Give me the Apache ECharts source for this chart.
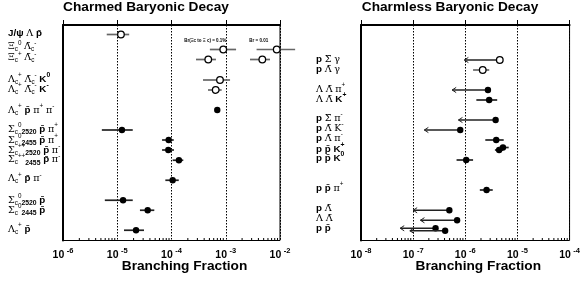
<!DOCTYPE html>
<html><head><meta charset="utf-8">
<script src="https://cdn.jsdelivr.net/npm/echarts@6/dist/echarts.min.js"></script>
<style>html,body{margin:0;padding:0;background:#fff}#c{width:583px;height:283px}</style>
</head><body><div id="c"></div>
<script>
// ---------- Left panel: Charmed Baryonic Decay ----------
const leftLabels = [
  '{b|J/ψ} {n|Λ} {b|p̄}',
  '{n|Ξ}{sub|c}{sup|0} {n|Λ̄}{sub|c}{sup|-}',
  '{n|Ξ}{sub|c}{sup|+} {n|Λ̄}{sub|c}{sup|-}',
  '{n|Λ}{sub|c}{sup|+} {n|Λ̄}{sub|c}{sup|-} {b|K}{supb|0}',
  '{n|Λ}{sub|c}{sup|+} {n|Λ̄}{sub|c}{sup|-} {b|K}{supb|-}',
  '{n|Λ}{sub|c}{sup|+} {b|p̄} {n|π}{sup|+} {n|π}{sup|-}',
  '{n|Σ}{sub|c}{sup|0}{subb|2520} {b|p̄} {n|π}{sup|+}',
  '{n|Σ}{sub|c}{sup|0}{subb|2455} {b|p̄} {n|π}{sup|+}',
  '{n|Σ}{sub|c}{sup|++}{subb|2520} {b|p̄} {n|π}{sup|-}',
  '{n|Σ}{sub|c}{sup|++}{subb|2455} {b|p̄} {n|π}{sup|-}',
  '{n|Λ}{sub|c}{sup|+} {b|p̄} {n|π}{sup|-}',
  '{n|Σ}{sub|c}{sup|0}{subb|2520} {b|p̄}',
  '{n|Σ}{sub|c}{sup|0}{subb|2445} {b|p̄}',
  '{n|Λ}{sub|c}{sup|+} {b|p̄}'
];
const leftLabelRows = [1.7, 4.3, 6.5, 10.8, 12.8, 17, 20.8, 23, 25, 26.9, 30.7, 35, 37, 40.8];

// measurements (kind: 0 filled bar, 1 open bar, 2 filled upper limit, 3 open upper limit)
const leftRows   = [1.9, 4.9, 4.9, 6.9, 6.9, 11, 13, 17, 21, 23, 25, 27.05, 31.05, 35.05, 37.05, 41.05];
const leftValues = [1.17e-5, 9.0e-4, 8.7e-3, 4.76e-4, 4.72e-3, 7.83e-4, 6.53e-4, 6.98e-4, 1.22e-5, 8.87e-5, 8.73e-5, 1.37e-4, 1.05e-4, 1.28e-5, 3.64e-5, 2.22e-5];
const leftLow    = [6.4e-6, 5.1e-4, 3.7e-3, 2.83e-4, 2.8e-3, 3.81e-4, 4.71e-4, 6.5e-4, 5.2e-6, 6.7e-5, 6.7e-5, 1.05e-4, 7.7e-5, 5.9e-6, 2.62e-5, 1.33e-5];
const leftHigh   = [1.66e-5, 1.55e-3, 1.9e-2, 6.6e-4, 6.55e-3, 1.2e-3, 8.4e-4, 7.5e-4, 1.93e-5, 1.1e-4, 1.11e-4, 1.65e-4, 1.36e-4, 1.93e-5, 4.82e-5, 3.11e-5];
const leftKind   = [1, 1, 1, 1, 1, 1, 1, 0, 0, 0, 0, 0, 0, 0, 0, 0];
const leftNotes  = ['', 'Br(Ξc to Ξ c) = 0.1%', 'Br = 0.01', '', '', '', '', '', '', '', '', '', '', '', '', ''];

// ---------- Right panel: Charmless Baryonic Decay ----------
const rightLabels = [
  '{b|p} {n|Σ̄} {n|γ}',
  '{b|p} {n|Λ̄} {n|γ}',
  '{n|Λ} {n|Λ̄} {n|π}{sup|+}',
  '{n|Λ} {n|Λ̄} {b|K}{supb|+}',
  '{b|p} {n|Σ̄} {n|π}{sup|-}',
  '{b|p} {n|Λ̄} {n|K}{sup|-}',
  '{b|p} {n|Λ̄} {n|π}{sup|-}',
  '{b|p p̄ K}{supb|+}',
  '{b|p p̄ K}{supb|0}',
  '{b|p p̄} {n|π}{sup|+}',
  '{b|p} {n|Λ̄}',
  '{n|Λ} {n|Λ̄}',
  '{b|p p̄}'
];
const rightLabelRows = [6.8, 8.8, 12.8, 14.8, 18.6, 20.6, 22.6, 24.8, 26.6, 32.6, 36.6, 38.6, 40.6];

const rightRows   = [7, 9, 13, 15, 19, 21, 23, 25, 24.5, 27, 33, 37.05, 39.05, 40.65, 41.15];
const rightValues = [4.59e-6, 2.16e-6, 2.72e-6, 2.87e-6, 3.82e-6, 8.0e-7, 3.92e-6, 4.46e-6, 5.28e-6, 1.04e-6, 2.56e-6, 4.95e-7, 6.97e-7, 2.69e-7, 4.11e-7];
const rightLow    = [9.6e-7, 1.41e-6, 5.6e-7, 1.63e-6, 7.4e-7, 1.64e-7, 2.42e-6, 3.7e-6, 4.5e-6, 6.8e-7, 1.9e-6, 1.0e-7, 1.38e-7, 5.65e-8, 8.65e-8];
const rightHigh   = [4.59e-6, 2.88e-6, 2.72e-6, 4.09e-6, 3.82e-6, 8.0e-7, 5.45e-6, 5.3e-6, 6.8e-6, 1.41e-6, 3.36e-6, 4.95e-7, 6.97e-7, 2.69e-7, 4.11e-7];
const rightKind   = [3, 1, 2, 0, 2, 2, 0, 0, 0, 0, 0, 2, 2, 2, 2];

const leftRange = [1e-6, 1e-2];
const rightRange = [1e-8, 1e-4];
const rowMax = 43.1;

const tokenFonts = {
  n:    {font: '9.6px "DejaVu Serif"', dy: 0},
  b:    {font: 'bold 9.8px "Liberation Sans"', dy: 0},
  sub:  {font: '6.3px "Liberation Sans"', dy: 3},
  sup:  {font: '6.3px "Liberation Sans"', dy: -3.6},
  subb: {font: 'bold 6.8px "Liberation Sans"', dy: 3.4},
  supb: {font: 'bold 6.8px "Liberation Sans"', dy: -3.6}
};
const mctx = document.createElement('canvas').getContext('2d');
function tokens(str) {
  const re = /\{(\w+)\|([^}]*)\}|([^{]+)/g; let m; const out = [];
  while ((m = re.exec(str))) out.push(m[1] ? {s: m[1], t: m[2]} : {s: 'b', t: m[3]});
  return out;
}

function minorTicks(range) {
  const out = [];
  const a = Math.round(Math.log10(range[0])), b = Math.round(Math.log10(range[1]));
  for (let e = a; e < b; e++) for (let k = 2; k <= 9; k++) out.push([k * Math.pow(10, e), rowMax]);
  return out;
}

function measRenderer(lows, highs, kinds, notes) {
  return function (params, api) {
    const i = params.dataIndex;
    const p = api.coord([api.value(0), api.value(1)]);
    const pl = api.coord([lows[i], api.value(1)]);
    const ph = api.coord([highs[i], api.value(1)]);
    const kind = kinds[i];
    const open = kind % 2 === 1;
    const ul = kind >= 2;
    const ch = [];
    if (ul) {
      ch.push({type: 'line', shape: {x1: pl[0], y1: p[1], x2: p[0], y2: p[1]}, style: {stroke: '#222', lineWidth: 1.3}});
      ch.push({type: 'polyline', shape: {points: [[pl[0] + 4, p[1] - 2.6], [pl[0], p[1]], [pl[0] + 4, p[1] + 2.6]]}, style: {stroke: '#222', lineWidth: 1, fill: null}});
    } else {
      ch.push({type: 'line', shape: {x1: pl[0], y1: p[1], x2: ph[0], y2: p[1]}, style: {stroke: open ? '#666' : '#222', lineWidth: 1.7}});
    }
    ch.push({type: 'circle', shape: {cx: p[0], cy: p[1], r: open ? 3.3 : 3.2},
      style: open ? {fill: '#fff', stroke: '#000', lineWidth: 1.3} : {fill: '#000'}});
    if (notes && notes[i]) {
      ch.push({type: 'text', x: p[0] - 18, y: p[1] - 9,
        style: {text: notes[i], fill: '#000', font: 'bold 4.5px "Liberation Sans"', align: 'center', verticalAlign: 'middle'}});
    }
    return {type: 'group', children: ch};
  };
}

function labelRenderer(labels, offset) {
  return function (params, api) {
    const p = api.coord([api.value(0), api.value(1)]);
    let x = p[0] - offset;
    const ch = [];
    tokens(labels[params.dataIndex]).forEach(tk => {
      const f = tokenFonts[tk.s];
      mctx.font = f.font;
      ch.push({type: 'text', x: x, y: p[1] + f.dy,
        style: {text: tk.t, font: f.font, fill: '#000', align: 'left', verticalAlign: 'middle'}});
      x += mctx.measureText(tk.t).width;
    });
    return {type: 'group', children: ch};
  };
}

function minorRenderer(params, api) {
  const p = api.coord([api.value(0), api.value(1)]);
  return {type: 'line', shape: {x1: p[0], y1: p[1], x2: p[0], y2: p[1] - 2.5}, style: {stroke: '#000', lineWidth: 1}};
}

function xAxisFor(range, idx) {
  return {
    type: 'log', logBase: 10, gridIndex: idx, min: range[0], max: range[1],
    axisLine: {show: true, lineStyle: {color: '#000', width: 2}},
    axisTick: {show: true, inside: true, length: 5, lineStyle: {color: '#000', width: 1}},
    splitLine: {show: true, lineStyle: {color: '#000', type: [1.5, 1.5], width: 1}},
    minorTick: {show: false},
    axisLabel: {
      margin: 6, showMinLabel: true, showMaxLabel: true,
      formatter: v => '{t|10}{s|' + Math.round(Math.log10(v)) + '}',
      rich: {
        t: {fontFamily: 'Liberation Sans', fontWeight: 'bold', fontSize: 10.5, lineHeight: 14, color: '#000', verticalAlign: 'bottom'},
        s: {fontFamily: 'Liberation Sans', fontWeight: 'bold', fontSize: 7.5, color: '#000', verticalAlign: 'top', padding: [0, 0, 0, 2.5]}
      }
    },
    name: 'Branching Fraction', nameLocation: 'middle', nameGap: 19, nameMoveOverlap: false,
    nameTextStyle: {fontFamily: 'Liberation Sans', fontWeight: 'bold', fontSize: 13.7, color: '#000', padding: [0, 0, 0, 26]}
  };
}

function yAxisFor(idx) {
  return {
    type: 'value', gridIndex: idx, min: 0, max: rowMax, inverse: true,
    axisLine: {show: true, lineStyle: {color: '#000', width: 2}},
    axisTick: {show: false}, axisLabel: {show: false}, splitLine: {show: false}
  };
}

const chart = echarts.init(document.getElementById('c'), null, {renderer: 'canvas'});
chart.setOption({
  animation: false,
  backgroundColor: '#fff',
  title: [
    {text: 'Charmed Baryonic Decay', left: 146, top: 0, padding: 0, textAlign: 'center',
     textStyle: {fontFamily: 'Liberation Sans', fontWeight: 'bold', fontSize: 13.7, color: '#000'}},
    {text: 'Charmless Baryonic Decay', left: 450, top: 0, padding: 0, textAlign: 'center',
     textStyle: {fontFamily: 'Liberation Sans', fontWeight: 'bold', fontSize: 13.7, color: '#000'}}
  ],
  grid: [
    {left: 63, top: 25, width: 217, height: 215.5, show: true, borderColor: '#000', borderWidth: 1, backgroundColor: 'transparent'},
    {left: 361, top: 25, width: 216.3, height: 215.5, show: true, borderColor: '#000', borderWidth: 1, backgroundColor: 'transparent'}
  ],
  xAxis: [xAxisFor(leftRange, 0), xAxisFor(rightRange, 1)],
  yAxis: [yAxisFor(0), yAxisFor(1)],
  series: [
    {type: 'custom', xAxisIndex: 0, yAxisIndex: 0, clip: false, silent: true,
     data: minorTicks(leftRange), renderItem: minorRenderer},
    {type: 'custom', xAxisIndex: 1, yAxisIndex: 1, clip: false, silent: true,
     data: minorTicks(rightRange), renderItem: minorRenderer},
    {type: 'custom', xAxisIndex: 0, yAxisIndex: 0, clip: false, silent: true,
     data: leftValues.map((v, i) => [v, leftRows[i]]),
     renderItem: measRenderer(leftLow, leftHigh, leftKind, leftNotes)},
    {type: 'custom', xAxisIndex: 1, yAxisIndex: 1, clip: false, silent: true,
     data: rightValues.map((v, i) => [v, rightRows[i]]),
     renderItem: measRenderer(rightLow, rightHigh, rightKind, null)},
    {type: 'custom', xAxisIndex: 0, yAxisIndex: 0, clip: false, silent: true,
     data: leftLabelRows.map(r => [leftRange[0], r]), renderItem: labelRenderer(leftLabels, 55)},
    {type: 'custom', xAxisIndex: 1, yAxisIndex: 1, clip: false, silent: true,
     data: rightLabelRows.map(r => [rightRange[0], r]), renderItem: labelRenderer(rightLabels, 45)}
  ]
});
</script>
</body></html>
